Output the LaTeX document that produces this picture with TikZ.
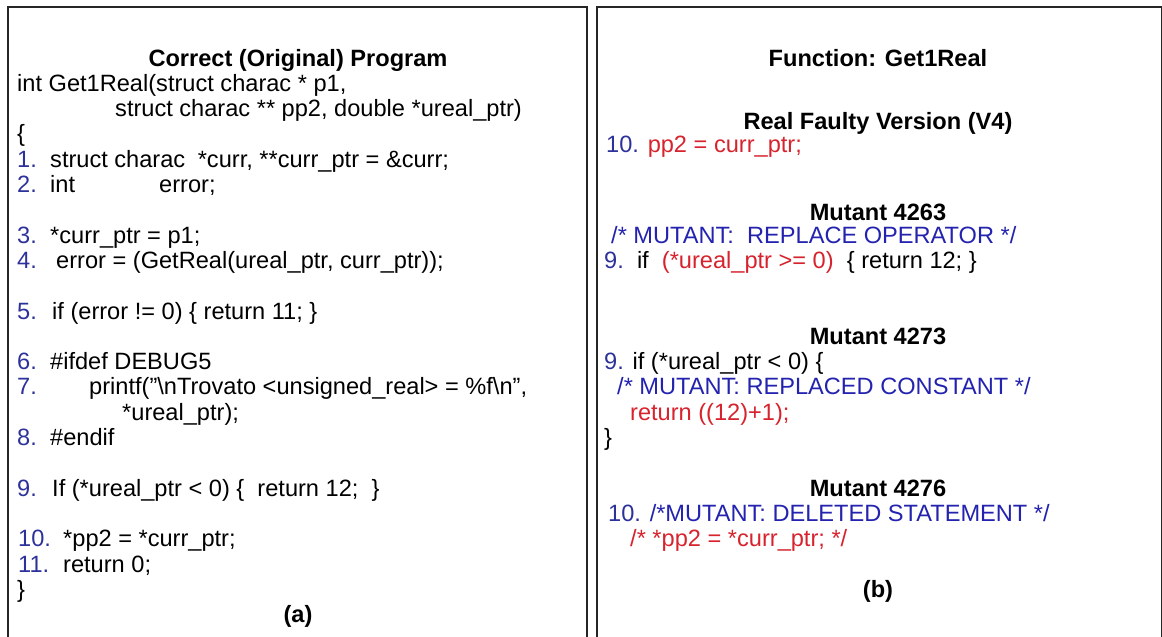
\documentclass[tikz,border=0pt]{standalone}
\usepackage{fontspec}
\setmainfont{Liberation Sans}
\definecolor{numblue}{RGB}{45,50,155}
\definecolor{cmtblue}{RGB}{35,35,175}
\definecolor{faultred}{RGB}{215,35,45}
\newcommand{\lno}[1]{\textcolor{numblue}{#1}}

\begin{document}
\begin{tikzpicture}[x=1pt, y=-1pt,
  codetext/.style={anchor=base west, inner sep=0pt, font=\fontsize{23.6}{26}\selectfont},
  titletext/.style={anchor=base, inner sep=0pt, font=\fontsize{23.6}{26}\selectfont\bfseries},
  numtext/.style={codetext, text=numblue},
  cmttext/.style={codetext, text=cmtblue},
  redtext/.style={codetext, text=faultred},
  boxline/.style={draw=black!85, line width=2.4pt}, ]

  \useasboundingbox (0,0) rectangle (1162,637);
  \clip (0,0) rectangle (1162,637);

  % the two panels
  \draw[boxline] (8,7) rectangle (587,670);
  \draw[boxline] (597,7) rectangle (1162.6,670);

  % (a) correct program
  \node[titletext] (heada) at (298,66) {Correct (Original) Program};
  \node[codetext] (sig1) at (17,91.3) {int Get1Real(struct charac * p1,};
  \node[codetext] (sig2) at (115,116.6) {struct charac ** pp2, double *ureal\_ptr)};
  \node[codetext] (open) at (17,141.9) {\{};
  \node[numtext] (n1) at (17,167.2) {1.};
  \node[codetext] (c1) at (50,167.2) {struct charac\hspace{6pt} *curr, **curr\_ptr = \&curr;};
  \node[numtext] (n2) at (17,192.5) {2.};
  \node[codetext] (c2) at (50,192.5) {int};
  \node[codetext] (c2b) at (159,192.5) {error;};
  \node[numtext] (n3) at (17,243.1) {3.};
  \node[codetext] (c3) at (50,243.1) {*curr\_ptr = p1;};
  \node[numtext] (n4) at (17,268.4) {4.};
  \node[codetext] (c4) at (56,268.4) {error = (GetReal(ureal\_ptr, curr\_ptr));};
  \node[numtext] (n5) at (17,319) {5.};
  \node[codetext] (c5) at (52,319) {if (error != 0) \{ return 11; \}};
  \node[numtext] (n6) at (17,369.6) {6.};
  \node[codetext] (c6) at (50,369.6) {\#ifdef DEBUG5};
  \node[numtext] (n7) at (17,394.9) {7.};
  \node[codetext] (c7) at (89,394.9) {printf("\textbackslash nTrovato <unsigned\_real> = \%f\textbackslash n",};
  \node[codetext] (c7b) at (122,420.2) {*ureal\_ptr);};
  \node[numtext] (n8) at (17,445.5) {8.};
  \node[codetext] (c8) at (50,445.5) {\#endif};
  \node[numtext] (n9) at (17,496.1) {9.};
  \node[codetext] (c9) at (52,496.1) {If (*ureal\_ptr < 0) \{\ \ return 12;\ \ \}};
  \node[numtext] (n10) at (18,546.7) {10.};
  \node[codetext] (c10) at (63,546.7) {*pp2 = *curr\_ptr;};
  \node[numtext] (n11) at (18,572) {11.};
  \node[codetext] (c11) at (63,572) {return 0;};
  \node[codetext] (close) at (17,597.3) {\}};
  \node[titletext] (capa) at (298,622.6) {(a)};

  % (b) faulty version and mutants
  \node[titletext] (headb) at (878,66) {Function: Get1Real};
  \node[titletext] (realv) at (878,129) {Real Faulty Version (V4)};
  \node[codetext] (rv10) at (606,152) {\lno{10.} \textcolor{faultred}{pp2 = curr\_ptr;}};

  \node[titletext] (m4263) at (878,220) {Mutant 4263};
  \node[cmttext] (m4263a) at (611,243.1) {/* MUTANT:\ \ REPLACE OPERATOR */};
  \node[codetext] (m4263b) at (604,268.4) {\lno{9.}\ \ if\ \ \textcolor{faultred}{(*ureal\_ptr >= 0)}\ \ \{ return 12; \}};

  \node[titletext] (m4273) at (878,344.3) {Mutant 4273};
  \node[codetext] (m4273a) at (604,369.6) {\lno{9.} if (*ureal\_ptr < 0) \{};
  \node[cmttext] (m4273b) at (617,394.9) {/* MUTANT: REPLACED CONSTANT */};
  \node[redtext] (m4273c) at (630,420.2) {return ((12)+1);};
  \node[codetext] (m4273d) at (604,445.5) {\}};

  \node[titletext] (m4276) at (878,496.1) {Mutant 4276};
  \node[codetext] (m4276a) at (608,521.4) {\lno{10.} \textcolor{cmtblue}{/*MUTANT: DELETED STATEMENT */}};
  \node[redtext] (m4276b) at (630,546.7) {/* *pp2 = *curr\_ptr; */};

  \node[titletext] (capb) at (878,597.3) {(b)};
\end{tikzpicture}
\end{document}
